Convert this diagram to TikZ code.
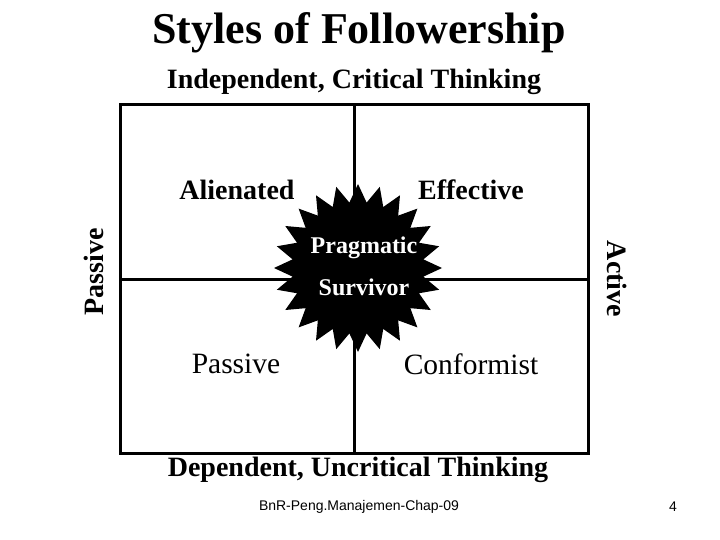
\documentclass[tikz,border=0pt]{standalone}
\usepackage{fontspec}
\setmainfont{Liberation Serif}
\newfontfamily\footfont{Liberation Sans}
\tikzset{%
  grid/.style={line width=3pt},
  heading/.style={font=\fontsize{28}{32}\selectfont\bfseries, inner sep=0pt},
  quad/.style={font=\fontsize{29.5}{34}\selectfont, inner sep=0pt}%
}

\begin{document}
\begin{tikzpicture}[
    x=1pt, y=-1pt,
    burstlabel/.style={font=\fontsize{24}{28}\selectfont\bfseries, text=white, inner sep=0pt},
    footer/.style={font=\footfont\fontsize{14}{16}\selectfont, inner sep=0pt}
]
\useasboundingbox (0,0) rectangle (720,540);

% Title
\node[font=\fontsize{44}{50}\selectfont\bfseries, inner sep=0pt] (title) at (359,33) {Styles of Followership};

% Outer frame and quadrant dividers
\draw[grid] (120,105) rectangle (588,453);
\draw[grid] (354,105) -- (354,453);
\draw[grid] (120,279) -- (588,279);

% Axis labels
\node[heading] (indep) at (354,82) {Independent, Critical Thinking};
\node[heading] (dep) at (358,470) {Dependent, Uncritical Thinking};
\node[heading, rotate=90] (passiveaxis) at (94,272) {Passive};
\node[heading, rotate=-90] (activeaxis) at (617,279) {Active};

% Quadrant labels
\node[heading] (alienated) at (237,190) {Alienated};
\node[heading] (effective) at (471,190) {Effective};
\node[quad] (passive) at (236,364) {Passive};
\node[quad] (conformist) at (471,364) {Conformist};

% Centre burst (24 points)
\coordinate (burst) at (358,268);
\fill[shift={(burst)}] (0:84pt)
  \foreach \i in {1,...,47} { -- ({\i*7.5}:{84pt-18pt*mod(\i,2)}) } -- cycle;
\node[burstlabel] (pragmatic) at (364,248) {Pragmatic};
\node[burstlabel] (survivor) at (364,287) {Survivor};

% Footer
\node[footer] (chap) at (359,507) {BnR-Peng.Manajemen-Chap-09};
\node[footer] (page) at (673,507) {4};

\end{tikzpicture}
\end{document}
